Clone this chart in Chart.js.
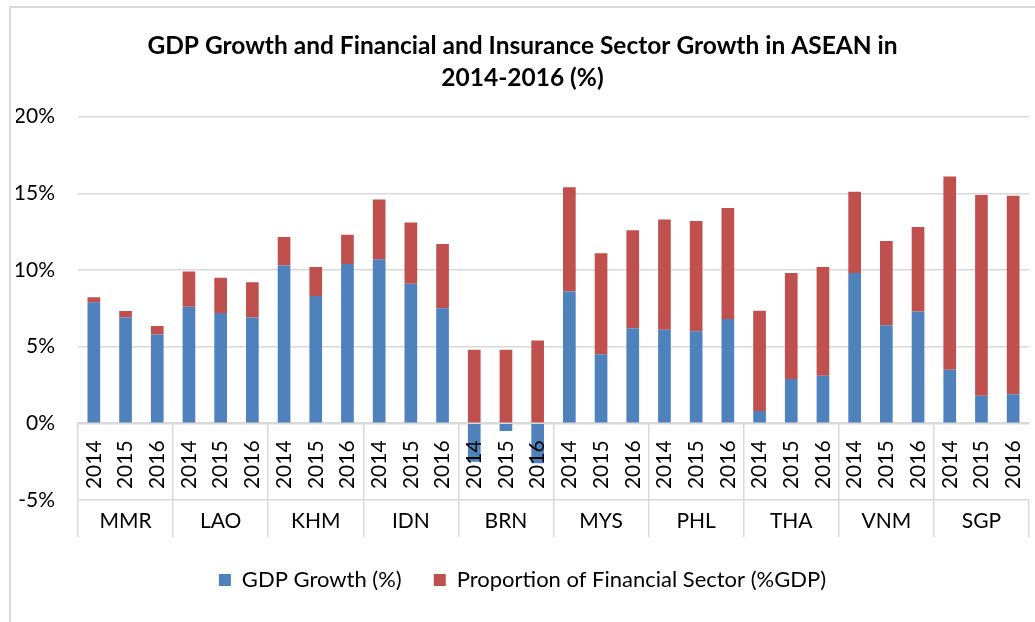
<!DOCTYPE html>
<html>
<head>
<meta charset="utf-8">
<script src="https://cdn.jsdelivr.net/npm/chart.js@4.4.1/dist/chart.umd.min.js"></script>
<style>
  html, body { margin: 0; padding: 0; background: #fff; }
  #wrap { position: relative; width: 1035px; height: 622px; }
  #frame { position: absolute; left: 9px; top: 6px; right: 0; bottom: 0;
           border-left: 2px solid #d9d9d9; border-top: 2px solid #d9d9d9; pointer-events: none; }
</style>
</head>
<body>
<div id="wrap">
  <canvas id="chart" width="1035" height="622"></canvas>
  <div id="frame"></div>
</div>
<script>
const countries = ['MMR', 'LAO', 'KHM', 'IDN', 'BRN', 'MYS', 'PHL', 'THA', 'VNM', 'SGP'];
const years = ['2014', '2015', '2016'];

// GDP growth (%), 3 years per country in the order above
const gdpGrowth = [
  7.9, 6.9, 5.8,     // MMR
  7.6, 7.2, 6.9,     // LAO
  10.3, 8.3, 10.4,   // KHM
  10.7, 9.1, 7.5,    // IDN
  -2.5, -0.5, -2.6,  // BRN
  8.6, 4.5, 6.2,     // MYS
  6.1, 6.0, 6.8,     // PHL
  0.8, 2.9, 3.1,     // THA
  9.8, 6.4, 7.3,     // VNM
  3.5, 1.8, 1.9      // SGP
];

// Proportion of financial sector (% of GDP)
const finShare = [
  0.33, 0.42, 0.55,  // MMR
  2.3, 2.3, 2.3,     // LAO
  1.85, 1.9, 1.9,    // KHM
  3.9, 4.0, 4.2,     // IDN
  4.8, 4.8, 5.4,     // BRN
  6.8, 6.6, 6.4,     // MYS
  7.2, 7.2, 7.25,    // PHL
  6.55, 6.9, 7.1,    // THA
  5.3, 5.5, 5.5,     // VNM
  12.6, 13.1, 12.95  // SGP
];

const yTicks = [-5, 0, 5, 10, 15, 20];

const labels = [];
countries.forEach(() => years.forEach(y => labels.push(y)));

const font = 'Lato';
const lineGray = '#d9d9d9';

// country names in the second row of the category axis, centred on x2's slots
const countryRow = {
  id: 'countryRow',
  afterDraw(chart) {
    const x2 = chart.scales.x2;
    const c = chart.ctx;
    c.save();
    c.font = '21px ' + font;
    c.fillStyle = '#000';
    c.textAlign = 'center';
    c.textBaseline = 'middle';
    countries.forEach((name, i) => {
      c.fillText(name, x2.getPixelForValue(i), x2.top + 21);
    });
    c.restore();
  }
};

const ctx = document.getElementById('chart').getContext('2d');
new Chart(ctx, {
  type: 'bar',
  data: {
    labels: labels,
    datasets: [
      { label: 'GDP Growth (%)', data: gdpGrowth, backgroundColor: '#4f81bd' },
      { label: 'Proportion of Financial Sector (%GDP)', data: finShare, backgroundColor: '#c0504d' }
    ]
  },
  plugins: [countryRow],
  options: {
    responsive: false,
    animation: false,
    barPercentage: 0.4,
    categoryPercentage: 1.0,
    layout: { padding: { left: 16, right: 6, top: 0, bottom: 21 } },
    plugins: {
      title: {
        display: true,
        text: ['GDP Growth and Financial and Insurance Sector Growth in ASEAN in', '2014-2016 (%)'],
        color: '#000',
        font: { family: font, size: 24.5, weight: 'bold', lineHeight: 1.3 },
        padding: { top: 30, bottom: 23 }
      },
      legend: {
        position: 'bottom',
        labels: {
          color: '#000',
          font: { family: font, size: 22 },
          boxWidth: 12,
          boxHeight: 12,
          padding: 32
        }
      },
      tooltip: { enabled: false }
    },
    scales: {
      x: {
        stacked: true,
        position: { y: 0 },
        offset: true,
        border: { display: true, color: lineGray, width: 2 },
        grid: {
          offset: true,
          drawOnChartArea: false,
          drawTicks: true,
          tickLength: 77,
          lineWidth: 1.5,
          color: c => (c.index % 3 === 0 ? lineGray : 'rgba(0,0,0,0)')
        },
        ticks: {
          z: 1, // year labels sit on top of the negative BRN bars
          autoSkip: false,
          maxRotation: 90,
          minRotation: 90,
          padding: -60,
          color: '#000',
          font: { family: font, size: 21 }
        }
      },
      x2: {
        type: 'category',
        labels: countries,
        position: 'bottom',
        offset: true,
        afterFit: axis => { axis.height = 37; },
        border: { display: false },
        grid: {
          offset: true,
          drawOnChartArea: false,
          drawTicks: true,
          tickLength: 37,
          lineWidth: 1.5,
          color: lineGray
        },
        ticks: { display: false }
      },
      y: {
        stacked: true,
        min: -5,
        max: 20,
        afterBuildTicks: axis => { axis.ticks = yTicks.map(v => ({ value: v })); },
        afterFit: axis => { axis.width = 62; },
        border: { display: false },
        grid: { color: lineGray, lineWidth: 1.5, drawTicks: false },
        ticks: {
          padding: 23,
          color: '#000',
          font: { family: font, size: 21 },
          callback: v => v + '%'
        }
      }
    }
  }
});
</script>
</body>
</html>
